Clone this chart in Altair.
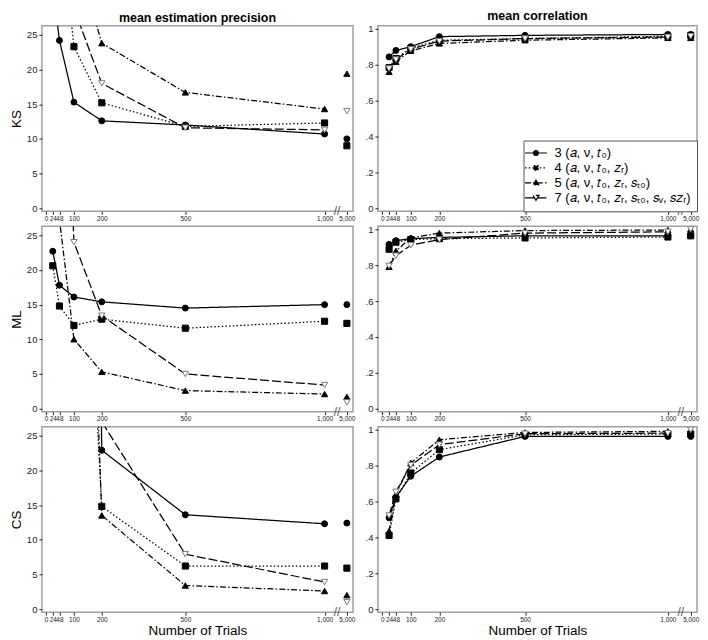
import altair as alt
import pandas as pd

trials = [24, 48, 100, 200, 500, 1000, 5000]
model_labels = [
    "3 (𝑎, ν, 𝑡₀)",
    "4 (𝑎, ν, 𝑡₀, 𝑧ᵣ)",
    "5 (𝑎, ν, 𝑡₀, 𝑧ᵣ, 𝑠ₜ₀)",
    "7 (𝑎, ν, 𝑡₀, 𝑧ᵣ, 𝑠ₜ₀, 𝑠ᵥ, 𝑠𝑧ᵣ)",
]
x_tick_values = [0, 24, 48, 100, 200, 500, 1000, 1080]

# mean estimation precision
ks_prec_3 = [32.0, 24.2, 15.3, 12.6, 12.0, 10.7, 10.0]
ks_prec_4 = [60.0, 43.0, 23.3, 15.2, 11.8, 12.3, 9.0]
ks_prec_5 = [80.0, 60.0, 37.6, 23.8, 16.7, 14.3, 19.4]
ks_prec_7 = [70.0, 50.0, 28.8, 18.0, 11.6, 11.3, 14.0]

ml_prec_3 = [22.7, 17.8, 16.1, 15.4, 14.5, 15.0, 15.0]
ml_prec_4 = [20.6, 14.8, 12.0, 12.9, 11.6, 12.6, 12.3]
ml_prec_5 = [45.0, 27.3, 10.0, 5.3, 2.6, 2.1, 1.7]
ml_prec_7 = [120.0, 76.0, 24.0, 13.4, 5.0, 3.4, 0.9]

cs_prec_3 = [600.0, 400.0, 300.0, 22.9, 13.6, 12.3, 12.4]
cs_prec_4 = [300.0, 200.0, 90.0, 14.8, 6.2, 6.2, 5.9]
cs_prec_5 = [400.0, 250.0, 125.0, 13.5, 3.4, 2.6, 2.0]
cs_prec_7 = [800.0, 500.0, 200.0, 27.0, 7.9, 3.9, 1.0]

# mean correlation
ks_corr_3 = [0.844, 0.880, 0.901, 0.957, 0.964, 0.969, 0.969]
ks_corr_4 = [0.785, 0.835, 0.892, 0.937, 0.946, 0.959, 0.964]
ks_corr_5 = [0.761, 0.817, 0.878, 0.919, 0.937, 0.950, 0.950]
ks_corr_7 = [0.779, 0.829, 0.887, 0.932, 0.946, 0.955, 0.959]

ml_corr_3 = [0.916, 0.937, 0.948, 0.955, 0.964, 0.964, 0.964]
ml_corr_4 = [0.889, 0.928, 0.943, 0.948, 0.952, 0.957, 0.964]
ml_corr_5 = [0.791, 0.880, 0.952, 0.979, 0.993, 0.996, 1.000]
ml_corr_7 = [0.796, 0.853, 0.911, 0.943, 0.979, 0.986, 1.000]

cs_corr_3 = [0.509, 0.624, 0.741, 0.848, 0.963, 0.963, 0.963]
cs_corr_4 = [0.411, 0.615, 0.759, 0.889, 0.972, 0.976, 0.976]
cs_corr_5 = [0.435, 0.639, 0.815, 0.944, 0.985, 0.991, 0.994]
cs_corr_7 = [0.522, 0.654, 0.802, 0.917, 0.978, 0.981, 1.000]

FONT = "Liberation Sans"
W_LEFT, W_RIGHT, H = 312, 320, 186

line_dashes = [[1, 0], [1.5, 2.2], [6, 2.2, 1.5, 2.2], [9, 3]]
point_shapes = ["circle", "square", "triangle-up", "triangle-down"]
point_fills = ["black", "black", "black", "white"]
point_strokes = ["black", "black", "black", "#7a7a7a"]
point_sizes = [36, 40, 50, 105]
legend_paths = [
    "M-2.2,0H2.2M0.5,0A0.5,0.5 0 1,1 -0.5,0A0.5,0.5 0 1,1 0.5,0Z",
    "M-2.2,0H2.2M-0.45,-0.45H0.45V0.45H-0.45Z",
    "M-2.2,0H2.2M0,-0.55L0.55,0.4H-0.55Z",
    "M-2.2,0H-0.3M0.3,0H2.2M0,0.5L0.6,-0.5H-0.6Z",
]


def long_df(series):
    rows = []
    for lab, vals in zip(model_labels, series):
        for t, v in zip(trials, vals):
            rows.append({"model": lab, "trials": t, "value": v})
    return pd.DataFrame(rows)


def make_panel(series, kind, ytitle, xtitle, coltitle, with_legend, width):
    df = long_df(series)
    if kind == "prec":
        ydom = [-0.45, 26.3]
        yvals = [0, 5, 10, 15, 20, 25]
        ylab = "format(datum.value, 'd')"
    else:
        ydom = [-0.017, 1.017]
        yvals = [0, 0.2, 0.4, 0.6, 0.8, 1]
        ylab = "datum.value == 0 ? '0' : datum.value == 1 ? '1' : slice(format(datum.value, '.1f'), 1)"

    x = alt.X(
        "xpos:Q",
        scale=alt.Scale(domain=[-15, 1102], nice=False, zero=False),
        axis=alt.Axis(
            values=x_tick_values,
            labelExpr="datum.value == 1080 ? '5,000' : format(datum.value, ',')",
            labelFontSize=6.5,
            labelOverlap=False,
            labelFlush=False,
            tickSize=3,
            labelPadding=1,
            title=xtitle,
            titleFontSize=13.5,
            titlePadding=1,
        ),
    )
    y = alt.Y(
        "value:Q",
        scale=alt.Scale(domain=ydom, nice=False, zero=False),
        axis=alt.Axis(
            values=yvals,
            labelExpr=ylab,
            labelFontSize=9.5,
            tickSize=3,
            labelPadding=2,
            title=ytitle,
            titleFontSize=13.5,
            titlePadding=3,
        ),
    )
    base = alt.Chart(df).transform_calculate(
        xpos="datum.trials == 5000 ? 1080 : datum.trials"
    )
    lines = base.transform_filter("datum.trials <= 1000").mark_line(
        clip=True, color="black", strokeWidth=1.25
    ).encode(
        x=x,
        y=y,
        strokeDash=alt.StrokeDash(
            "model:N", scale=alt.Scale(domain=model_labels, range=line_dashes), legend=None
        ),
    )
    points = base.mark_point(clip=True, opacity=1, strokeWidth=1).encode(
        x=x,
        y=y,
        shape=alt.Shape("model:N", scale=alt.Scale(domain=model_labels, range=point_shapes), legend=None),
        fill=alt.Fill("model:N", scale=alt.Scale(domain=model_labels, range=point_fills), legend=None),
        stroke=alt.Stroke("model:N", scale=alt.Scale(domain=model_labels, range=point_strokes), legend=None),
        size=alt.Size("model:N", scale=alt.Scale(domain=model_labels, range=point_sizes), legend=None),
    )
    brk = alt.Chart(pd.DataFrame({"k": [0]})).mark_text(
        text="//", fontSize=12, color="#555", baseline="middle", font=FONT
    ).encode(x=alt.datum(1045), y=alt.value(H))
    layers = [lines, points, brk]
    if with_legend:
        leg = dict(
            orient="bottom-right",
            offset=0,
            title=None,
            strokeColor="#555",
            fillColor="white",
            padding=6,
            labelFontSize=13,
            labelFont=FONT,
            labelColor="black",
            symbolSize=100,
            symbolStrokeWidth=1.2,
            labelOffset=12,
            rowPadding=1,
        )
        legend_layer = base.transform_filter("false").mark_point(opacity=1, strokeWidth=1.2).encode(
            x=x,
            y=y,
            shape=alt.Shape("model:N", scale=alt.Scale(domain=model_labels, range=legend_paths), legend=alt.Legend(**leg)),
            strokeDash=alt.StrokeDash("model:N", scale=alt.Scale(domain=model_labels, range=line_dashes), legend=alt.Legend(**leg)),
            fill=alt.Fill("model:N", scale=alt.Scale(domain=model_labels, range=point_fills), legend=alt.Legend(**leg)),
            stroke=alt.Stroke("model:N", scale=alt.Scale(domain=model_labels, range=["black"] * 4), legend=alt.Legend(**leg)),
        )
        layers.append(legend_layer)
    ch = alt.layer(*layers).resolve_scale(
        shape="independent", fill="independent", stroke="independent", strokeDash="independent", size="independent"
    ).properties(width=width, height=H)
    if coltitle:
        ch = ch.properties(
            title=alt.Title(coltitle, fontSize=12.5, fontWeight="bold", font=FONT, offset=1)
        )
    return ch


panels = [
    make_panel([ks_prec_3, ks_prec_4, ks_prec_5, ks_prec_7], "prec", "KS", None, "mean estimation precision", False, W_LEFT),
    make_panel([ks_corr_3, ks_corr_4, ks_corr_5, ks_corr_7], "corr", None, None, "mean correlation", True, W_RIGHT),
    make_panel([ml_prec_3, ml_prec_4, ml_prec_5, ml_prec_7], "prec", "ML", None, None, False, W_LEFT),
    make_panel([ml_corr_3, ml_corr_4, ml_corr_5, ml_corr_7], "corr", None, None, None, False, W_RIGHT),
    make_panel([cs_prec_3, cs_prec_4, cs_prec_5, cs_prec_7], "prec", "CS", "Number of Trials", None, False, W_LEFT),
    make_panel([cs_corr_3, cs_corr_4, cs_corr_5, cs_corr_7], "corr", None, "Number of Trials", None, False, W_RIGHT),
]

chart = alt.concat(*panels, columns=2, spacing={"row": 0, "column": 8}).resolve_scale(
    shape="independent", fill="independent", stroke="independent", strokeDash="independent", size="independent"
).resolve_legend(
    shape="independent", fill="independent", stroke="independent", strokeDash="independent", size="independent"
).properties(padding=0).configure_view(
    stroke="#a0a0a0", strokeWidth=1.5
).configure_axis(
    domain=False, grid=False, tickColor="#222", labelColor="#222", titleColor="black",
    labelFont=FONT, titleFont=FONT, titleFontWeight="normal"
).configure_text(font=FONT)

chart.save("out.html", embed_options={"renderer": "svg", "actions": False})
